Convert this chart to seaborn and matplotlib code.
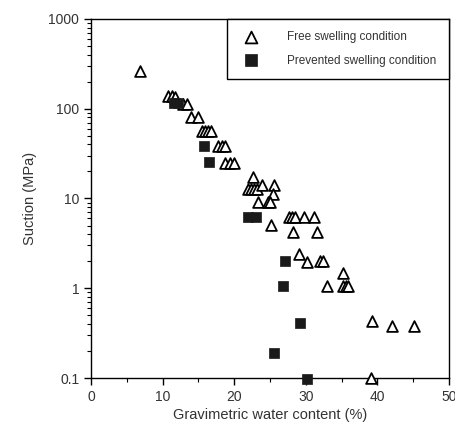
import pandas as pd
import matplotlib
matplotlib.use('Agg')
import matplotlib.pyplot as plt
import seaborn as sns
from matplotlib.ticker import LogLocator, FixedLocator, NullFormatter

# Free swelling condition (open triangles)
free_w = [6.8, 10.8, 11.3, 11.8, 12.8, 13.4, 14.0, 15.0, 15.5, 15.9, 16.3, 16.8,
          17.7, 18.3, 18.7, 18.7, 19.4, 20.0, 22.6, 21.9, 22.3, 22.8, 23.2, 23.9,
          25.6, 25.4, 23.3, 24.7, 25.0, 25.1, 27.6, 28.1, 28.5, 29.7, 31.1, 28.2,
          31.6, 29.1, 30.2, 32.0, 32.4, 35.2, 33.0, 35.2, 35.6, 35.9, 39.2, 42.0,
          45.1, 39.1]
free_s = [260, 139, 139, 135, 113, 113, 81, 81, 56.5, 56.5, 56.5, 56.5,
          38, 38, 38, 25, 25, 25, 17.4, 12.8, 12.8, 12.8, 12.8, 14.1,
          14.1, 11.2, 9.1, 9.1, 9.1, 5.07, 6.2, 6.2, 6.2, 6.2, 6.2, 4.2,
          4.2, 2.41, 1.96, 2.0, 2.0, 1.48, 1.06, 1.05, 1.05, 1.05, 0.43, 0.38,
          0.38, 0.1]

# Prevented swelling condition (filled squares)
prev_w = [11.6, 12.2, 15.8, 16.5, 21.9, 23.0, 27.1, 26.8, 29.2, 25.6, 30.1]
prev_s = [115, 115, 38.5, 25.5, 6.2, 6.2, 2.0, 1.06, 0.41, 0.19, 0.098]

free = pd.DataFrame({'w': free_w, 's': free_s})
prev = pd.DataFrame({'w': prev_w, 's': prev_s})

sns.set_style('ticks')
plt.rcParams['font.family'] = ['Liberation Sans', 'DejaVu Sans']

fig = plt.figure(figsize=(4.56, 4.30), dpi=100)
ax = fig.add_axes([0.1996, 0.1209, 0.785, 0.835])

sns.scatterplot(data=free, x='w', y='s', marker='^', s=60, facecolor='white',
                edgecolor='black', linewidth=1.3, ax=ax, clip_on=False,
                label='Free swelling condition', zorder=3)
sns.scatterplot(data=prev, x='w', y='s', marker='s', s=60, color='#1a1a1a',
                edgecolor='#1a1a1a', linewidth=0.5, ax=ax, clip_on=False,
                label='Prevented swelling condition', zorder=3)

ax.set_yscale('log')
ax.set_xlim(0, 50)
ax.set_ylim(0.1, 1000)
ax.xaxis.set_major_locator(FixedLocator([0, 10, 20, 30, 40, 50]))
ax.xaxis.set_minor_locator(FixedLocator([5, 15, 25, 35, 45]))
ax.yaxis.set_major_locator(LogLocator(base=10, numticks=10))
ax.yaxis.set_minor_locator(LogLocator(base=10, subs=range(2, 10), numticks=20))
ax.yaxis.set_minor_formatter(NullFormatter())
ax.set_yticks([0.1, 1, 10, 100, 1000])
ax.set_yticklabels(['0.1', '1', '10', '100', '1000'])

for sp in ax.spines.values():
    sp.set_linewidth(1.0)
    sp.set_color('black')
ax.tick_params(which='major', direction='out', length=5, width=1.0,
               labelsize=10, colors='black', labelcolor='#333333')
ax.tick_params(which='minor', direction='out', length=3, width=0.8, colors='black')

ax.set_xlabel('Gravimetric water content (%)', fontsize=10.5, color='#333333', labelpad=3)
ax.set_ylabel('Suction (MPa)', fontsize=10.5, color='#333333', labelpad=8)

leg = ax.legend(loc='upper right', bbox_to_anchor=(1, 1), borderaxespad=0,
                fancybox=False, edgecolor='black', framealpha=1, fontsize=8.5,
                borderpad=1.05, labelspacing=0.95, handletextpad=2.1,
                handlelength=2.0, markerscale=1.1)
leg.get_frame().set_linewidth(1.0)
for t in leg.get_texts():
    t.set_color('#333333')

fig.savefig('out.png', dpi=100)
